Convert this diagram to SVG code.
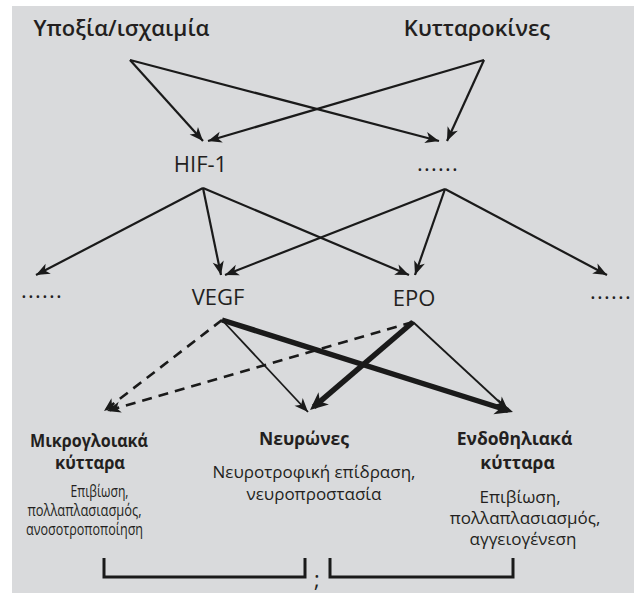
<svg xmlns="http://www.w3.org/2000/svg" width="634" height="596" viewBox="0 0 634 596">
<defs>
<style>
.t{font-family:"Open Sans","Noto Sans","DejaVu Sans",sans-serif;fill:#231f20;text-anchor:middle}
.h{font-size:22px;font-weight:600}
.n{font-size:22px}
.dt{font-size:22px;letter-spacing:1.2px}
.b{font-size:17.5px;font-weight:700}
.r{font-size:17px}
.rl{font-size:17px}
.a{stroke:#1a1a1a;fill:none;stroke-width:2.2}
.s{stroke:#1a1a1a;fill:none;stroke-width:1.8}
.d{stroke:#1a1a1a;fill:none;stroke-width:2.6;stroke-dasharray:10 7}
.k{stroke:#1a1a1a;fill:none;stroke-width:5.5}
</style>
<marker id="m" markerUnits="userSpaceOnUse" markerWidth="20" markerHeight="20" viewBox="-14 -8 16 16" refX="0" refY="0" orient="auto">
<path d="M0,0 L-11,-4.5 L-8,0 L-11,4.5 Z" fill="#1a1a1a"/>
</marker>
<marker id="mb" markerUnits="userSpaceOnUse" markerWidth="30" markerHeight="30" viewBox="-22 -12 30 24" refX="-5" refY="0" orient="auto">
<path d="M0,0 L-18,-8 L-13,0 L-18,8 Z" fill="#1a1a1a"/>
</marker>
</defs>
<rect x="12" y="6" width="622" height="587" fill="#d9dadc"/>
<g id="connectors">
<line class="a" x1="130" y1="60" x2="203" y2="141" marker-end="url(#m)"/>
<line class="a" x1="130" y1="60" x2="439" y2="141" marker-end="url(#m)"/>
<line class="a" x1="484" y1="60" x2="208" y2="141" marker-end="url(#m)"/>
<line class="a" x1="484" y1="60" x2="447" y2="141" marker-end="url(#m)"/>
<line class="a" x1="203" y1="188" x2="36" y2="275" marker-end="url(#m)"/>
<line class="a" x1="203" y1="188" x2="221" y2="275" marker-end="url(#m)"/>
<line class="a" x1="203" y1="188" x2="409" y2="275" marker-end="url(#m)"/>
<line class="a" x1="445" y1="189" x2="225" y2="275" marker-end="url(#m)"/>
<line class="a" x1="445" y1="189" x2="415" y2="275" marker-end="url(#m)"/>
<line class="a" x1="445" y1="189" x2="607" y2="275" marker-end="url(#m)"/>
<line class="d" x1="222" y1="320" x2="104" y2="411" marker-end="url(#m)"/>
<line class="d" x1="413" y1="322" x2="107" y2="411" marker-end="url(#m)"/>
<line class="s" x1="222" y1="320" x2="308" y2="412" marker-end="url(#m)"/>
<line class="s" x1="413" y1="322" x2="508" y2="410" marker-end="url(#m)"/>
<line class="k" x1="413" y1="322" x2="313.8" y2="406.8" marker-end="url(#mb)"/>
<line class="k" x1="222" y1="320" x2="508.2" y2="410.5" marker-end="url(#mb)"/>
<path d="M104,558 V577 H305 V558 M330,558 V577 H513 V558" stroke="#1a1a1a" stroke-width="3" fill="none"/>
</g>
<g id="hypoxia"><text class="t h" x="121.5" y="36">Υποξία/ισχαιμία</text></g>
<g id="cytokines"><text class="t h" x="477" y="36">Κυτταροκίνες</text></g>
<g id="hif1"><text class="t n" x="200.5" y="172" font-size="23">HIF-1</text></g>
<g id="other1"><text class="t dt" x="438" y="171">......</text></g>
<g id="otherLeft"><text class="t dt" x="42" y="298">......</text></g>
<g id="vegf"><text class="t n" x="218" y="305">VEGF</text></g>
<g id="epo"><text class="t n" x="414" y="306">EPO</text></g>
<g id="otherRight"><text class="t dt" x="611" y="299">......</text></g>
<g id="microglia">
<text class="t b" x="89" y="447" textLength="118" lengthAdjust="spacingAndGlyphs">Μικρογλοιακά</text>
<text class="t b" x="90" y="469" textLength="70" lengthAdjust="spacingAndGlyphs">κύτταρα</text>
<text class="t rl" x="99.5" y="497" textLength="58" lengthAdjust="spacingAndGlyphs">Επιβίωση,</text>
<text class="t rl" x="84.5" y="516" textLength="114" lengthAdjust="spacingAndGlyphs">πολλαπλασιασμός,</text>
<text class="t rl" x="84.5" y="535" textLength="117" lengthAdjust="spacingAndGlyphs">ανοσοτροποποίηση</text>
</g>
<g id="neurons">
<text class="t b" x="304" y="445">Νευρώνες</text>
<text class="t r" x="314" y="478">Νευροτροφική επίδραση,</text>
<text class="t r" x="314" y="500">νευροπροστασία</text>
</g>
<g id="endothelial">
<text class="t b" x="514.5" y="445">Ενδοθηλιακά</text>
<text class="t b" x="517.5" y="469">κύτταρα</text>
<text class="t r" x="520" y="503">Επιβίωση,</text>
<text class="t r" x="525" y="524">πολλαπλασιασμός,</text>
<text class="t r" x="523" y="545">αγγειογένεση</text>
</g>
<g id="question"><text class="t n" x="317" y="587">;</text></g>
</svg>
